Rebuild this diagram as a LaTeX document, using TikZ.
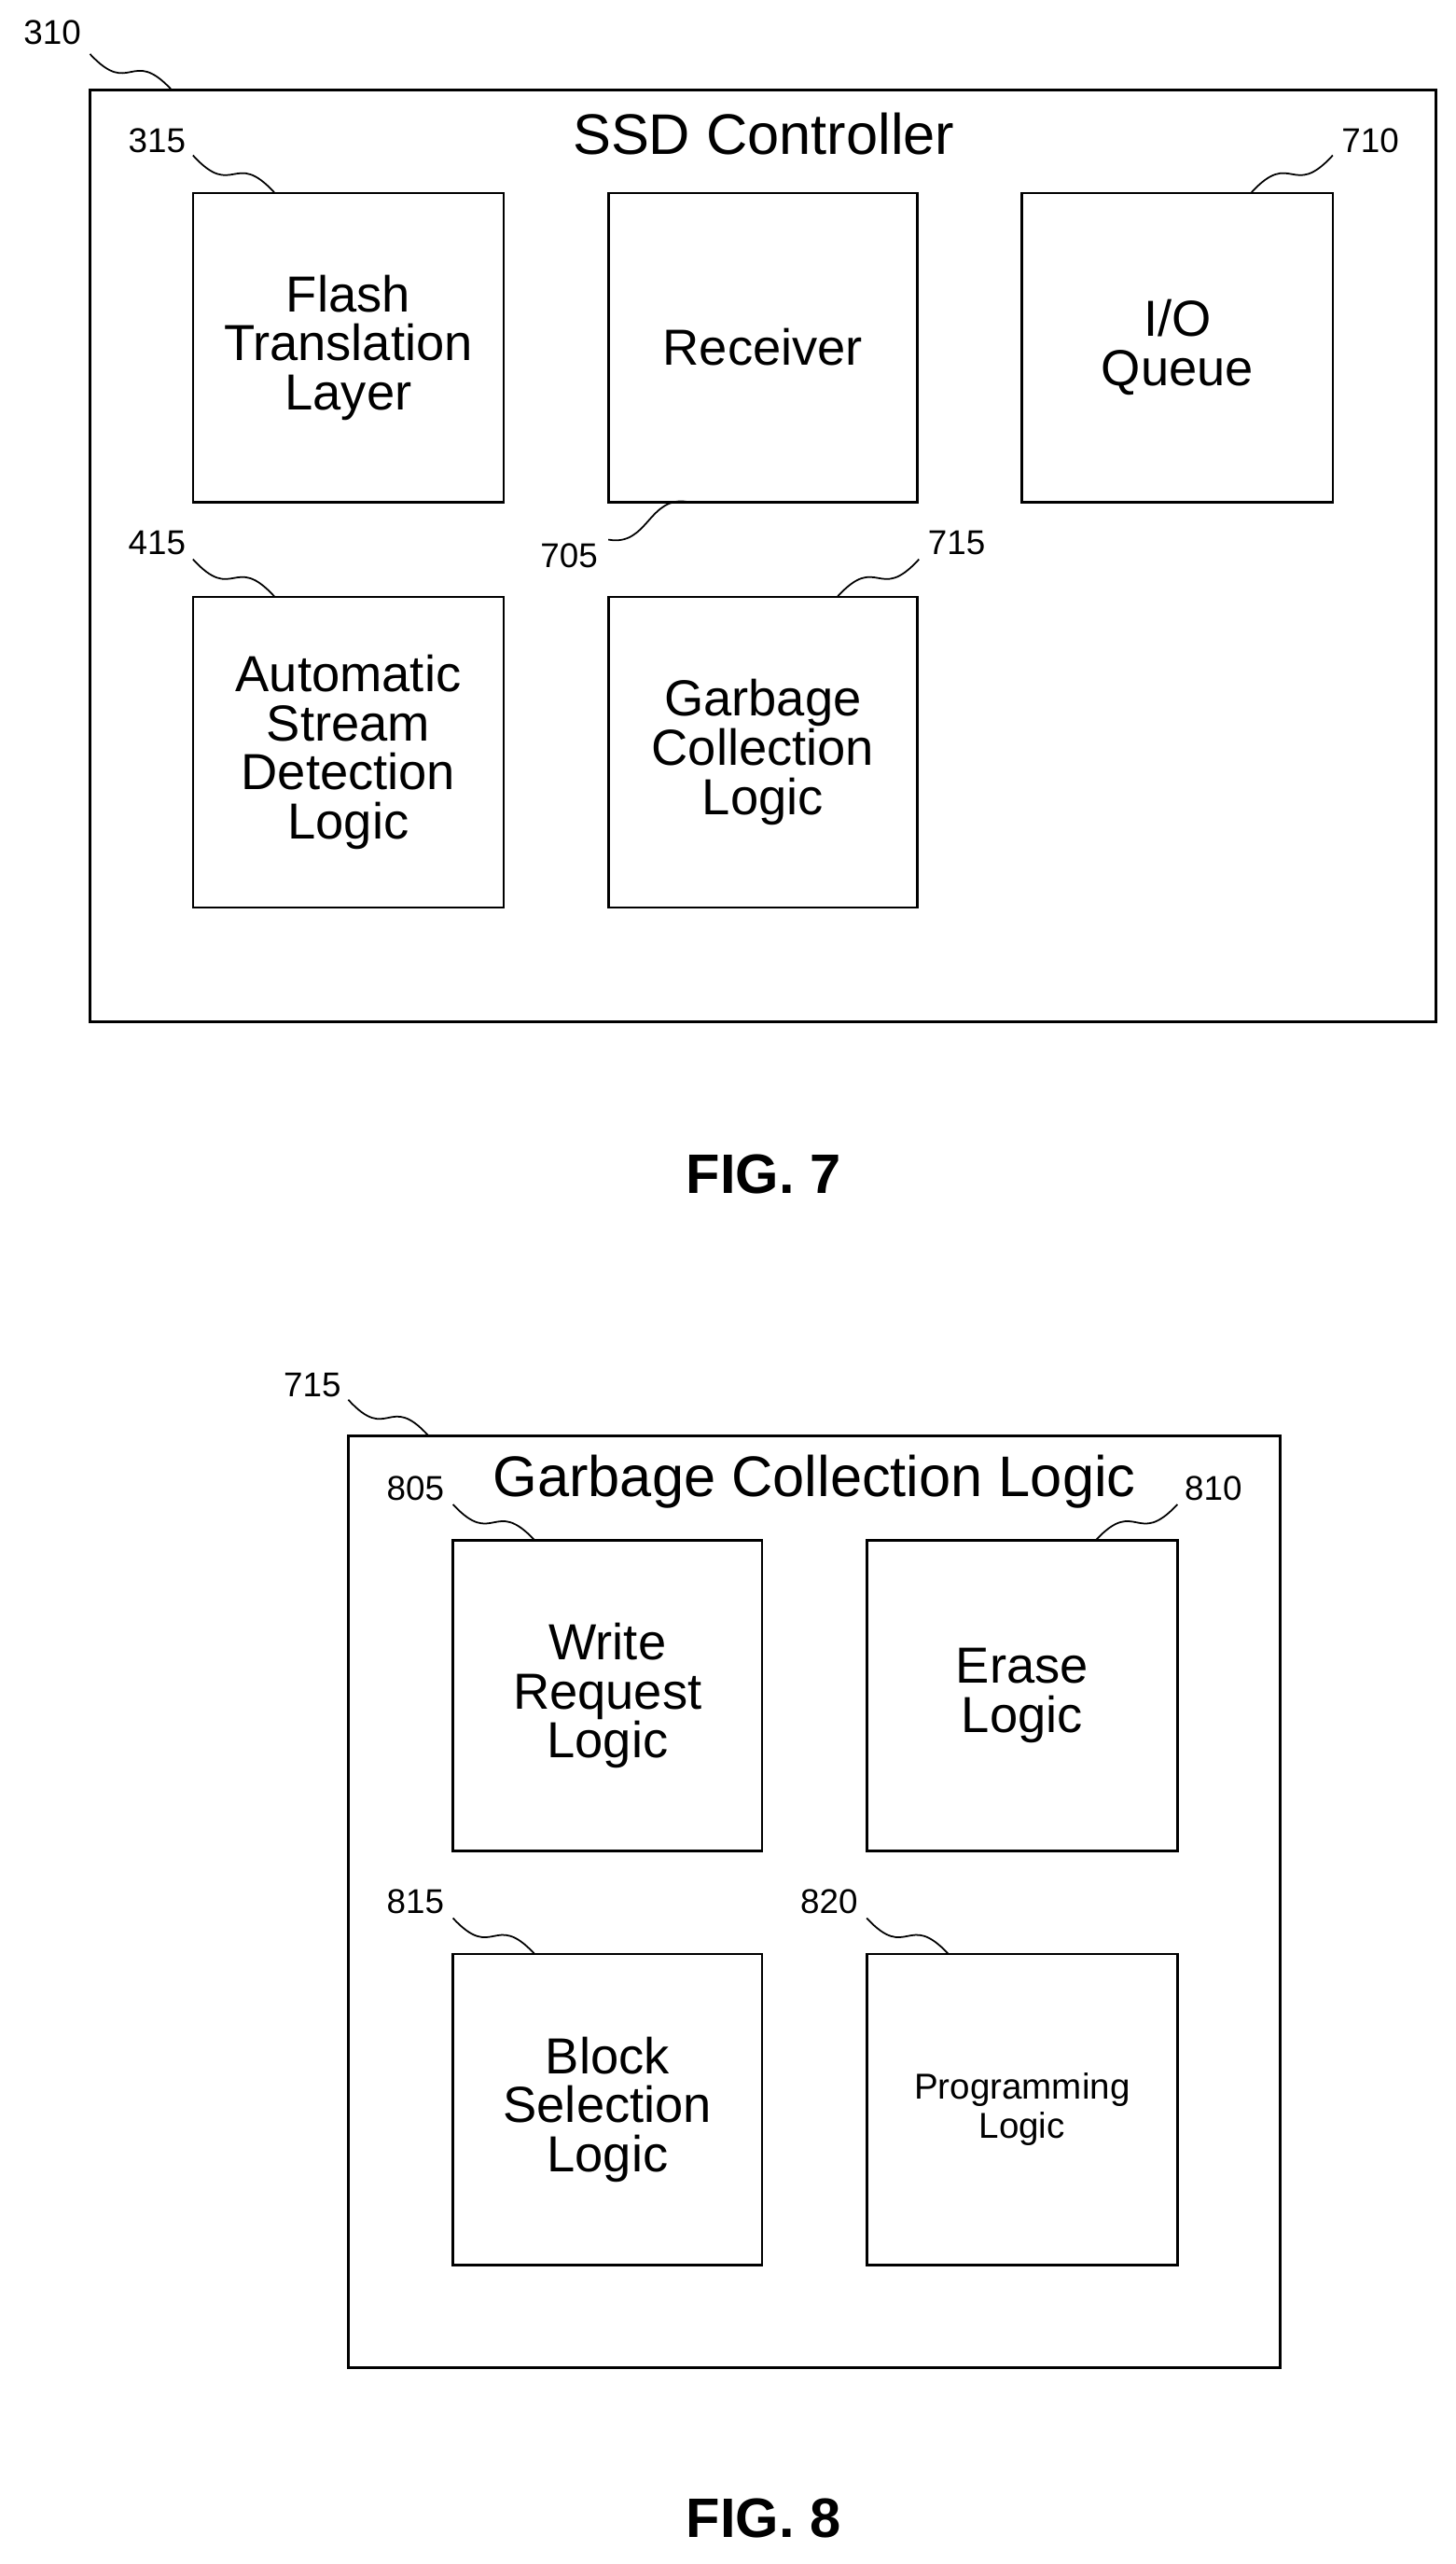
\documentclass[tikz,border=0pt]{standalone}
\usepackage{fontspec}
\setmainfont{Liberation Sans}
\usetikzlibrary{calc}
\begin{document}
\begin{tikzpicture}[x=1pt,y=-1pt,line width=1.5pt,
 box/.style={draw,align=center,font=\fontsize{31}{36}\selectfont},
 lbl/.style={font=\fontsize{21}{24}\selectfont,inner sep=0pt},
 ttl/.style={font=\fontsize{35}{40}\selectfont,inner sep=0pt},
 fig/.style={font=\fontsize{34}{40}\selectfont\bfseries,inner sep=0pt}]
\useasboundingbox (0,0) rectangle (890,1568);
\newcommand\mybox[5]{\node[box,minimum width=#3-#1,minimum height=#4-#2,inner sep=0pt] (#5) at ({(#1+#3)/2},{(#2+#4)/2}) {};}
\newcommand\squig[2]{\draw[line width=1pt] (#1) .. controls ($(#1)!0.5!(#2)+(0,16)$) and ($(#1)!0.5!(#2)+(0,-16)$) .. (#2);}
% FIG 7
\mybox{55}{55}{878}{625}{ssd}
\node[ttl] (ssdt) at (467,82) {SSD Controller};
\mybox{118}{118}{308}{307}{ftl}\node[box,draw=none] at (ftl) {Flash\\[-6pt]Translation\\[-6pt]Layer};
\mybox{372}{118}{561}{307}{rcv}\node[box,draw=none] at (rcv) {Receiver};
\mybox{625}{118}{815}{307}{ioq}\node[box,draw=none] at (ioq) {I/O\\[-6pt]Queue};
\mybox{118}{365}{308}{555}{asd}\node[box,draw=none] at (asd) {Automatic\\[-6pt]Stream\\[-6pt]Detection\\[-6pt]Logic};
\mybox{372}{365}{561}{555}{gc}\node[box,draw=none] at (gc) {Garbage\\[-6pt]Collection\\[-6pt]Logic};
\node[lbl] (l310) at (32,20) {310}; \coordinate (a1) at (55,33); \coordinate (b1) at (105,55); \squig{a1}{b1}
\node[lbl] (l315) at (96,86) {315}; \coordinate (a2) at (118,95); \coordinate (b2) at (168,118); \squig{a2}{b2}
\node[lbl] (l710) at (838,86) {710}; \coordinate (a3) at (815,95); \coordinate (b3) at (765,118); \squig{a3}{b3}
\node[lbl] (l415) at (96,332) {415}; \coordinate (a4) at (118,342); \coordinate (b4) at (168,365); \squig{a4}{b4}
\node[lbl] (l705) at (348,340) {705}; \coordinate (a5) at (372,330); \coordinate (b5) at (421,307); \squig{a5}{b5}
\node[lbl] (l715) at (585,332) {715}; \coordinate (a6) at (562,342); \coordinate (b6) at (512,365); \squig{a6}{b6}
\node[fig] (f7) at (467,718) {FIG. 7};
% FIG 8
\mybox{213}{878}{783}{1448}{gcl}
\node[ttl] (gclt) at (498,906) {Garbage Collection Logic};
\mybox{277}{942}{466}{1132}{wrl}\node[box,draw=none] at (wrl) {Write\\[-6pt]Request\\[-6pt]Logic};
\mybox{530}{942}{720}{1132}{erl}\node[box,draw=none] at (erl) {Erase\\[-6pt]Logic};
\mybox{277}{1195}{466}{1385}{bsl}\node[box,draw=none] at (bsl) {Block\\[-6pt]Selection\\[-6pt]Logic};
\mybox{530}{1195}{720}{1385}{prl}\node[box,draw=none,font=\fontsize{22}{26}\selectfont] at (prl) {Programming\\[-2pt]Logic};
\node[lbl] (l715b) at (191,847) {715}; \coordinate (c1) at (213,856); \coordinate (d1) at (262,878); \squig{c1}{d1}
\node[lbl] (l805) at (254,910) {805}; \coordinate (c2) at (277,920); \coordinate (d2) at (327,942); \squig{c2}{d2}
\node[lbl] (l810) at (742,910) {810}; \coordinate (c3) at (720,920); \coordinate (d3) at (670,942); \squig{c3}{d3}
\node[lbl] (l815) at (254,1163) {815}; \coordinate (c4) at (277,1173); \coordinate (d4) at (327,1195); \squig{c4}{d4}
\node[lbl] (l820) at (507,1163) {820}; \coordinate (c5) at (530,1173); \coordinate (d5) at (580,1195); \squig{c5}{d5}
\node[fig] (f8) at (467,1540) {FIG. 8};
\end{tikzpicture}
\end{document}
